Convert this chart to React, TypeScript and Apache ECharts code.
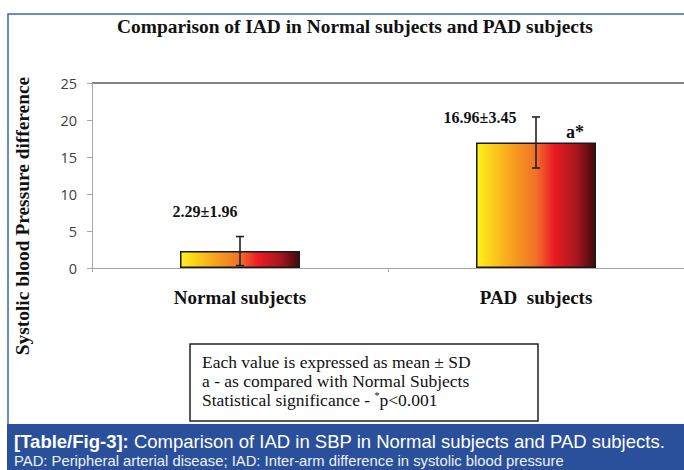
import React, { useEffect, useRef } from "react";
import * as echarts from "echarts";

const categories = ["Normal subjects", "PAD  subjects"];
const means = [2.29, 16.96];
const sds = [1.96, 3.45];
const significance = ["", "a*"];
const yTicks = [0, 5, 10, 15, 20, 25];

const chartTitle = "Comparison of IAD in Normal subjects and PAD subjects";
const yTitle = "Systolic blood Pressure difference";
const noteLines = [
  "Each value is expressed as mean ± SD",
  "a - as compared with Normal Subjects",
];
const captionHead = "[Table/Fig-3]:";
const captionText = " Comparison of IAD in SBP in Normal subjects and PAD subjects.";
const captionLine2 = "PAD: Peripheral arterial disease; IAD: Inter-arm difference in systolic blood pressure";

// pixel offsets of the value labels relative to (bar centre, top of error bar)
const labelOffsets = [
  [-35, -25],
  [-56, 1],
];

export default function App() {
  const ref = useRef<HTMLDivElement>(null);
  useEffect(() => {
    if (!ref.current) return;
    const chart = echarts.init(ref.current, null, { renderer: "svg" });
    const serif = "'Liberation Serif', 'Times New Roman', serif";
    const sans = "'Liberation Sans', Arial, sans-serif";
    const barGrad = new echarts.graphic.LinearGradient(0, 0, 1, 0, [
      { offset: 0, color: "#fff21a" },
      { offset: 0.3, color: "#f6a01c" },
      { offset: 0.5, color: "#f2702a" },
      { offset: 0.65, color: "#ec1c24" },
      { offset: 0.85, color: "#a3161c" },
      { offset: 1, color: "#3e0a0c" },
    ]);
    const errData = means.map((m, i) => [i, m - sds[i], m + sds[i]]);
    const splitColors = yTicks.map((_, i) => (i === yTicks.length - 1 ? "#5a5a5a" : "rgba(0,0,0,0)"));

    chart.setOption({
      animation: false,
      backgroundColor: "#ffffff",
      title: {
        text: chartTitle,
        left: 350,
        textAlign: "center",
        top: 12,
        textStyle: { fontFamily: serif, fontWeight: "bold", fontSize: 19.4, color: "#111" },
      },
      grid: { left: 92, right: -8, top: 83, bottom: 202, containLabel: false },
      xAxis: {
        type: "category",
        data: categories,
        axisLine: { lineStyle: { color: "#a6a6a6", width: 1 } },
        axisTick: { show: true, length: 4, lineStyle: { color: "#a6a6a6" } },
        axisLabel: {
          margin: 20,
          fontFamily: serif,
          fontWeight: "bold",
          fontSize: 19,
          color: "#111",
        },
      },
      yAxis: {
        type: "value",
        min: 0,
        max: 25,
        interval: 5,
        axisLine: { show: true, lineStyle: { color: "#a6a6a6" } },
        axisTick: { show: true, length: 5, lineStyle: { color: "#a6a6a6" } },
        axisLabel: { margin: 15, fontFamily: "'Open Sans', sans-serif", fontSize: 14.5, color: "#404040" },
        splitLine: { show: true, lineStyle: { color: splitColors, width: 1.5 } },
      },
      series: [
        {
          type: "bar",
          data: means,
          barWidth: 120,
          itemStyle: { color: barGrad, borderColor: "#1a1a1a", borderWidth: 1.5 },
        },
        {
          type: "custom",
          data: errData,
          z: 10,
          renderItem: (params: any, api: any) => {
            const i = api.value(0);
            const lo = api.coord([i, api.value(1)]);
            const hi = api.coord([i, api.value(2)]);
            const x = lo[0];
            const w = 4;
            const st = { stroke: "#222", lineWidth: 1.6 };
            const off = labelOffsets[params.dataIndex];
            const children: any[] = [
              { type: "line", shape: { x1: x, y1: lo[1], x2: x, y2: hi[1] }, style: st },
              { type: "line", shape: { x1: x - w, y1: lo[1], x2: x + w, y2: lo[1] }, style: st },
              { type: "line", shape: { x1: x - w, y1: hi[1], x2: x + w, y2: hi[1] }, style: st },
              {
                type: "text",
                x: x + off[0],
                y: hi[1] + off[1],
                style: {
                  text: `${means[params.dataIndex].toFixed(2)}±${sds[params.dataIndex].toFixed(2)}`,
                  fontFamily: serif,
                  fontWeight: "bold",
                  fontSize: 16,
                  fill: "#111",
                  align: "center",
                  verticalAlign: "middle",
                },
              },
            ];
            const sig = significance[params.dataIndex];
            if (sig) {
              const top = api.coord([i, means[params.dataIndex]]);
              children.push({
                type: "text",
                x: x + 39,
                y: top[1] - 1,
                style: {
                  text: sig,
                  fontFamily: serif,
                  fontWeight: "bold",
                  fontSize: 18,
                  fill: "#111",
                  align: "center",
                  verticalAlign: "bottom",
                },
              });
            }
            return { type: "group", children };
          },
        },
      ],
      graphic: [
        {
          type: "rect",
          shape: { x: 8, y: 14, width: 700, height: 420 },
          style: { fill: "none", stroke: "#3366b8", lineWidth: 1.5 },
          silent: true,
        },
        {
          type: "text",
          x: 22,
          y: 216,
          rotation: Math.PI / 2,
          style: {
            text: yTitle,
            fontFamily: serif,
            fontWeight: "bold",
            fontSize: 19.4,
            fill: "#111",
            align: "center",
            verticalAlign: "middle",
          },
        },
        {
          type: "rect",
          shape: { x: 190, y: 344, width: 348, height: 77 },
          style: { fill: "#fff", stroke: "#222", lineWidth: 1.5 },
        },
        {
          type: "text",
          x: 202,
          y: 352,
          style: {
            text: `${noteLines[0]}\n${noteLines[1]}\n{t|Statistical significance - }{s|*}{t|p<0.001}`,
            fontFamily: serif,
            fontSize: 17.5,
            lineHeight: 19,
            fill: "#111",
            rich: {
              t: { fontFamily: serif, fontSize: 17.5, fill: "#111", lineHeight: 19 },
              s: { fontFamily: serif, fontSize: 10, fill: "#111", verticalAlign: "top", lineHeight: 19, padding: [0, 0, 9, 0] },
            },
          },
        },
        {
          type: "rect",
          shape: { x: 7, y: 424, width: 677, height: 46 },
          style: { fill: "#2a509b" },
        },
        {
          type: "text",
          x: 14,
          y: 441,
          style: {
            text: `{b|${captionHead}}{n|${captionText}}`,
            verticalAlign: "middle",
            rich: {
              b: { fontFamily: sans, fontWeight: "bold", fontSize: 18.5, fill: "#fff" },
              n: { fontFamily: sans, fontSize: 18.5, fill: "#fff" },
            },
          },
        },
        {
          type: "text",
          x: 14,
          y: 461,
          style: {
            text: captionLine2,
            fontFamily: sans,
            fontSize: 14.8,
            fill: "#eef2fa",
            verticalAlign: "middle",
          },
        },
      ],
    });
    return () => chart.dispose();
  }, []);
  return (
    <div
      ref={ref}
      style={{ position: "absolute", left: 0, top: 0, width: 684, height: 470 }}
    />
  );
}
